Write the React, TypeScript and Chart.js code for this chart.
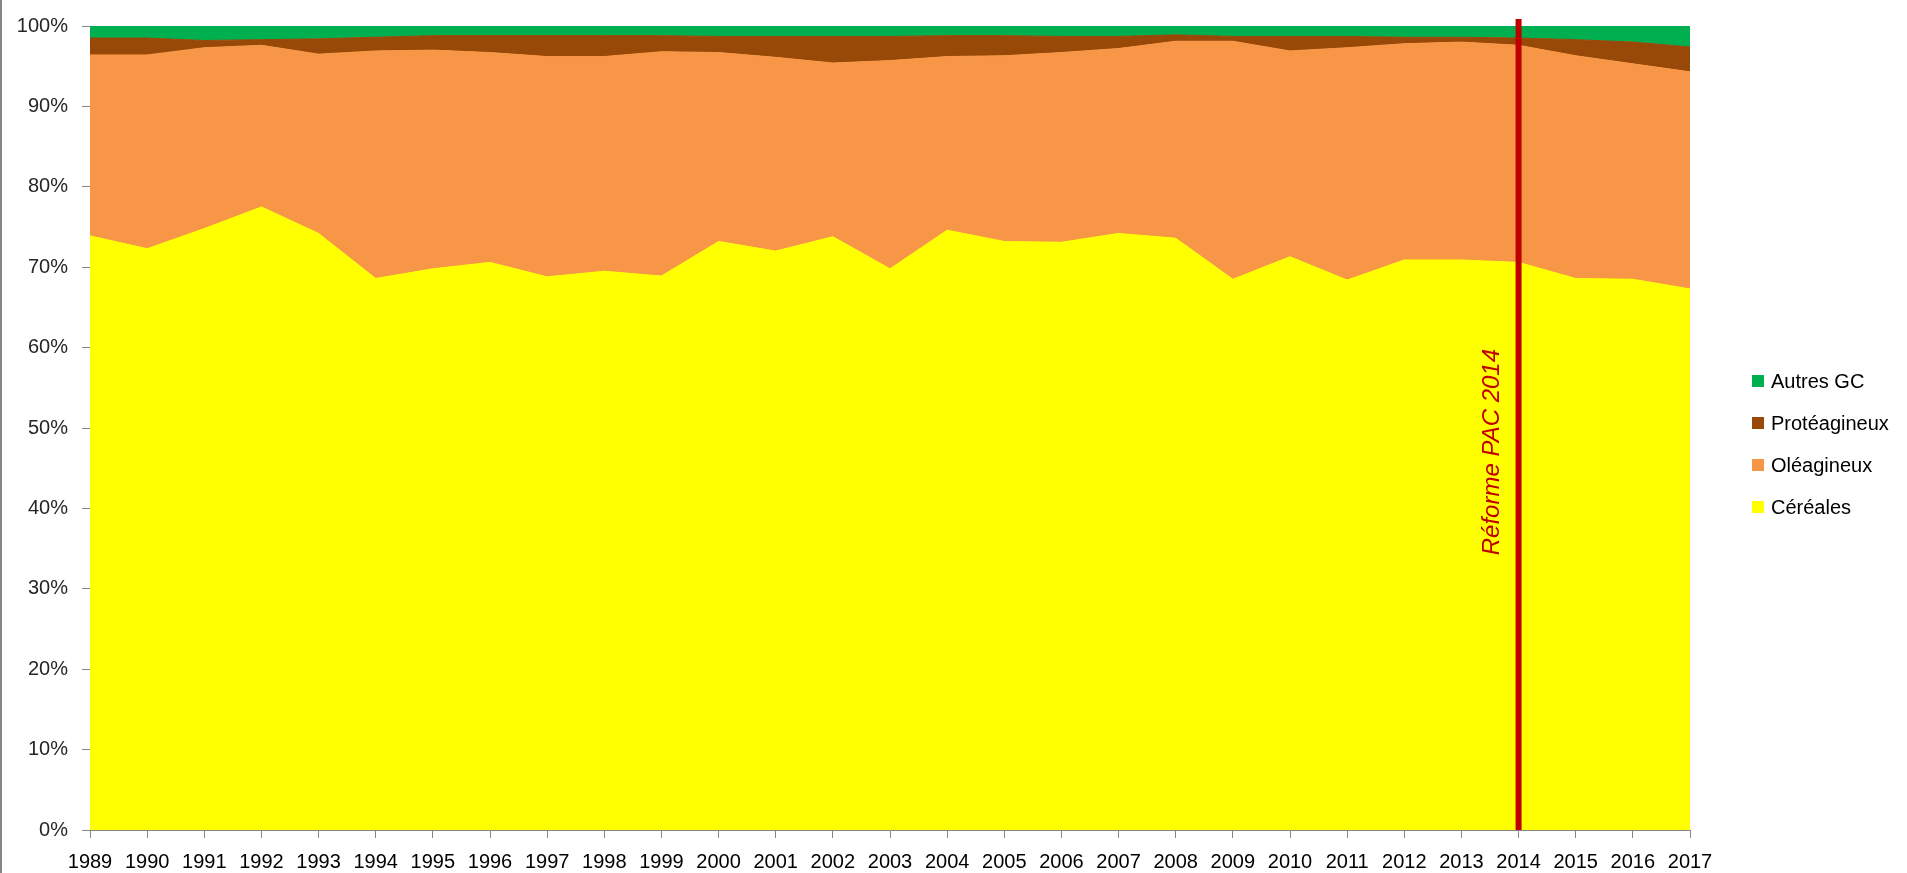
import React, { useEffect, useRef } from "react";
import { Chart, registerables } from "chart.js";

Chart.register(...registerables);

const years = [
  "1989", "1990", "1991", "1992", "1993", "1994", "1995", "1996", "1997", "1998",
  "1999", "2000", "2001", "2002", "2003", "2004", "2005", "2006", "2007", "2008",
  "2009", "2010", "2011", "2012", "2013", "2014", "2015", "2016", "2017",
];

const cereales = [
  73.9, 72.3, 74.8, 77.5, 74.2, 68.6, 69.8, 70.6, 68.8, 69.5,
  68.9, 73.2, 72.0, 73.8, 69.8, 74.6, 73.2, 73.1, 74.2, 73.6,
  68.5, 71.3, 68.4, 70.9, 70.9, 70.6, 68.6, 68.5, 67.3,
];

const oleagineux = [
  22.5, 24.1, 22.5, 20.1, 22.3, 28.3, 27.2, 26.1, 27.4, 26.7,
  27.9, 23.5, 24.1, 21.6, 25.9, 21.6, 23.1, 23.6, 23.0, 24.5,
  29.6, 25.6, 28.9, 26.9, 27.1, 27.0, 27.7, 26.8, 27.0,
];

const proteagineux = [
  2.1, 2.1, 0.9, 0.7, 1.9, 1.7, 1.8, 2.1, 2.6, 2.6,
  2.0, 2.0, 2.6, 3.3, 3.0, 2.6, 2.5, 2.0, 1.5, 0.8,
  0.6, 1.8, 1.4, 0.8, 0.6, 0.9, 2.0, 2.7, 3.1,
];

const autresGC = [
  1.5, 1.5, 1.8, 1.7, 1.6, 1.4, 1.2, 1.2, 1.2, 1.2,
  1.2, 1.3, 1.3, 1.3, 1.3, 1.2, 1.2, 1.3, 1.3, 1.1,
  1.3, 1.3, 1.3, 1.4, 1.4, 1.5, 1.7, 2.0, 2.6,
];

const seriesLabels = ["Céréales", "Oléagineux", "Protéagineux", "Autres GC"];
const seriesColors = ["#FFFF00", "#F79646", "#984807", "#00B050"];

const reformYear = "2014";
const reformLabel = "Réforme PAC 2014";
const reformLabelValue = 47;

const FONT = '"Liberation Sans", Arial, sans-serif';
const AXIS_GREY = "#868686";

const overlayPlugin = {
  id: "overlay",
  afterDraw(chart: any) {
    const { ctx, chartArea, scales } = chart;
    ctx.save();
    // outer chart border (left edge)
    ctx.fillStyle = AXIS_GREY;
    ctx.fillRect(0, 0, 2, chart.height);

    // reform line
    const x = scales.x.getPixelForValue(years.indexOf(reformYear));
    ctx.strokeStyle = "#C00000";
    ctx.lineWidth = 6;
    ctx.beginPath();
    ctx.moveTo(x, chartArea.top - 7);
    ctx.lineTo(x, chartArea.bottom);
    ctx.stroke();

    // reform label (rotated)
    ctx.save();
    ctx.translate(x - 20, scales.y.getPixelForValue(reformLabelValue));
    ctx.rotate(-Math.PI / 2);
    ctx.font = `italic 24px ${FONT}`;
    ctx.fillStyle = "#C00000";
    ctx.textAlign = "center";
    ctx.textBaseline = "alphabetic";
    ctx.fillText(reformLabel, 0, 0);
    ctx.restore();

    // legend (reversed order)
    const items = chart.data.datasets.slice().reverse();
    const lx = chartArea.right + 62;
    const top = 381;
    ctx.font = `20px ${FONT}`;
    ctx.textAlign = "left";
    ctx.textBaseline = "middle";
    items.forEach((ds: any, i: number) => {
      const cy = top + i * 42;
      ctx.fillStyle = ds.backgroundColor;
      ctx.fillRect(lx, cy - 6, 12, 12);
      ctx.fillStyle = "#000000";
      ctx.fillText(ds.label, lx + 19, cy + 1);
    });
    ctx.restore();
  },
};

export default function App() {
  const canvasRef = useRef<HTMLCanvasElement | null>(null);

  useEffect(() => {
    if (!canvasRef.current) return;
    const seriesData = [cereales, oleagineux, proteagineux, autresGC];
    const chart = new Chart(canvasRef.current, {
      type: "line",
      data: {
        labels: years,
        datasets: seriesData.map((d, i) => ({
          label: seriesLabels[i],
          data: d,
          backgroundColor: seriesColors[i],
          borderColor: seriesColors[i],
          borderWidth: 1,
          pointRadius: 0,
          pointHoverRadius: 0,
          tension: 0,
          fill: i === 0 ? "origin" : "-1",
        })),
      },
      options: {
        responsive: false,
        animation: false,
        layout: { padding: { top: 22, right: 217, bottom: 0, left: 0 } },
        plugins: {
          legend: { display: false },
          tooltip: { enabled: false },
        },
        scales: {
          x: {
            z: 1,
            offset: false,
            afterFit: (scale: any) => {
              scale.height = 43;
            },
            grid: {
              drawOnChartArea: false,
              drawTicks: true,
              tickLength: 8,
              color: AXIS_GREY,
            },
            border: { display: true, color: AXIS_GREY, width: 1 },
            ticks: {
              autoSkip: false,
              maxRotation: 0,
              minRotation: 0,
              padding: 12,
              color: "#000000",
              font: { family: FONT, size: 20 },
            },
          },
          y: {
            z: 1,
            stacked: true,
            min: 0,
            max: 100,
            afterFit: (scale: any) => {
              scale.width = 90;
            },
            grid: {
              drawOnChartArea: false,
              drawTicks: true,
              tickLength: 8,
              color: AXIS_GREY,
            },
            border: { display: true, color: AXIS_GREY, width: 1 },
            ticks: {
              stepSize: 10,
              padding: 14,
              color: "#262626",
              font: { family: FONT, size: 20 },
              callback: (v: any) => `${v}%`,
            },
          },
        },
      },
      plugins: [overlayPlugin],
    });
    return () => chart.destroy();
  }, []);

  return (
    <div style={{ position: "absolute", left: 0, top: 0, width: 1907, height: 873, background: "#ffffff" }}>
      <canvas ref={canvasRef} width={1907} height={873} />
    </div>
  );
}
